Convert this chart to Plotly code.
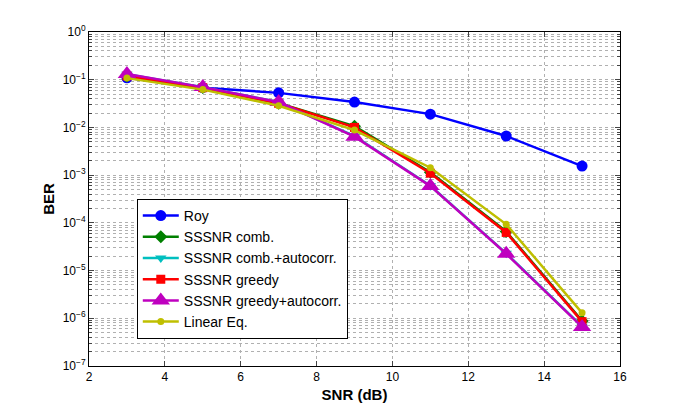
import plotly.graph_objects as go

snr = [3, 5, 7, 9, 11, 13, 15]
roy = [0.11, 0.068, 0.053, 0.034, 0.019, 0.0066, 0.00155]
sssnr_comb = [0.12, 0.069, 0.032, 0.0106, 0.00115, 6.6e-5, 8.8e-7]
sssnr_comb_ac = [0.13, 0.07, 0.034, 0.0066, 6.0e-4, 2.3e-5, 6.8e-7]
sssnr_greedy = [0.12, 0.068, 0.032, 0.0100, 0.0011, 6.3e-5, 8.5e-7]
sssnr_greedy_ac = [0.132, 0.07, 0.034, 0.0064, 5.9e-4, 2.25e-5, 6.6e-7]
linear_eq = [0.108, 0.062, 0.0285, 0.0088, 0.00143, 9.3e-5, 1.3e-6]

names = ["Roy", "SSSNR comb.", "SSSNR comb.+autocorr.", "SSSNR greedy",
         "SSSNR greedy+autocorr.", "Linear Eq."]
series = [roy, sssnr_comb, sssnr_comb_ac, sssnr_greedy, sssnr_greedy_ac, linear_eq]
colors = ["#0000ff", "#008000", "#00bfbf", "#ff0000", "#bf00bf", "#bfbf00"]
symbols = ["circle", "diamond", "triangle-down", "square", "triangle-up", "circle"]
msizes = [11, 10, 10, 9, 16, 7]

ytick_vals = [10.0 ** k for k in range(0, -8, -1)]
ytick_text = ["10<sup>0</sup>"] + ["10<sup>−%d</sup>" % k for k in range(1, 8)]
xtick_vals = [2, 4, 6, 8, 10, 12, 14, 16]

fig = go.Figure()
for nm, ys, c, s, ms in zip(names, series, colors, symbols, msizes):
    fig.add_trace(go.Scatter(
        x=snr, y=ys, name=nm, mode="lines+markers",
        line=dict(color=c, width=2.5),
        marker=dict(symbol=s, size=ms, color=c, line=dict(width=0)),
    ))

gridc = "#b0b0b0"
fig.update_layout(
    width=677, height=404,
    margin=dict(l=81, r=65, t=24, b=46),
    paper_bgcolor="white", plot_bgcolor="white",
    font=dict(family="Liberation Sans, Arial, sans-serif", size=12, color="black"),
    showlegend=True,
    legend=dict(x=0.09, y=0.5, xanchor="left", yanchor="top",
                bgcolor="white", bordercolor="black", borderwidth=1,
                font=dict(size=14), tracegroupgap=0, itemwidth=36),
    xaxis=dict(range=[2, 16], tickvals=xtick_vals, ticks="inside", ticklen=5,
               showline=True, linecolor="black", linewidth=1, mirror="ticks",
               showgrid=True, gridcolor=gridc, griddash="dot", gridwidth=1,
               zeroline=False,
               title=dict(text="<b>SNR (dB)</b>", font=dict(size=15), standoff=6)),
    yaxis=dict(type="log", range=[-7, 0], tickvals=ytick_vals, ticktext=ytick_text,
               ticks="inside", ticklen=5,
               showline=True, linecolor="black", linewidth=1, mirror="ticks",
               showgrid=True, gridcolor=gridc, griddash="dot", gridwidth=1,
               minor=dict(ticks="inside", ticklen=3, showgrid=True, gridcolor=gridc,
                          griddash="dot", gridwidth=1, dtick="D1"),
               zeroline=False,
               title=dict(text="<b>BER</b>", font=dict(size=15), standoff=4)),
)

fig.write_html("out.html")
